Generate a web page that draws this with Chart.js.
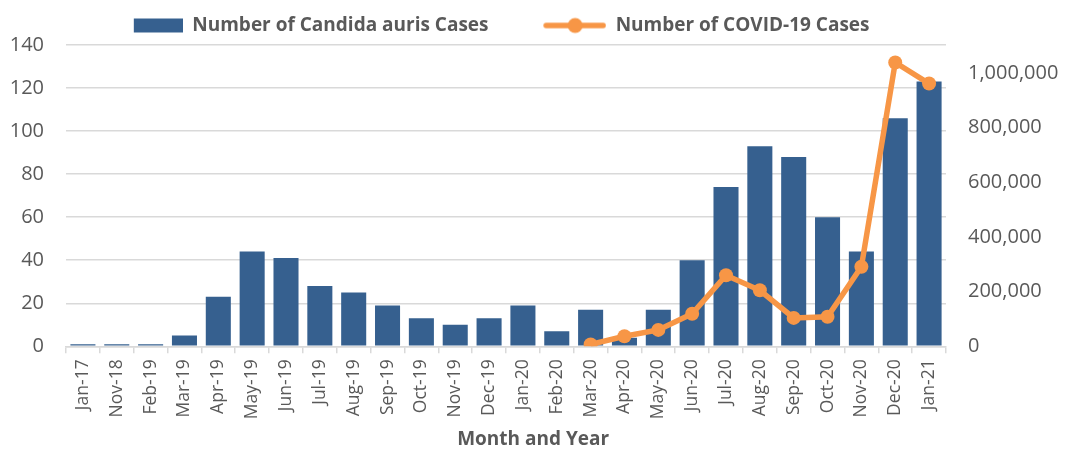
<!DOCTYPE html>
<html>
<head>
<meta charset="utf-8">
<script src="https://cdn.jsdelivr.net/npm/chart.js@4"></script>
<style>
  html, body { margin: 0; padding: 0; background: #fff; }
  #wrap { width: 1073px; height: 451px; }
</style>
</head>
<body>
<div id="wrap"><canvas id="chart" width="1073" height="451"></canvas></div>
<script>
// Data
const months = ['Jan-17', 'Nov-18', 'Feb-19', 'Mar-19', 'Apr-19', 'May-19', 'Jun-19', 'Jul-19',
    'Aug-19', 'Sep-19', 'Oct-19', 'Nov-19', 'Dec-19', 'Jan-20', 'Feb-20', 'Mar-20', 'Apr-20',
    'May-20', 'Jun-20', 'Jul-20', 'Aug-20', 'Sep-20', 'Oct-20', 'Nov-20', 'Dec-20', 'Jan-21'];
const aurisCases = [1, 1, 1, 5, 23, 44, 41, 28, 25, 19, 13, 10, 13, 19, 7, 17, 4, 17, 40, 74, 93, 88, 60, 44, 106, 123];
const covidCases = [null, null, null, null, null, null, null, null, null, null, null, null, null, null, null,
    7000, 37000, 60000, 119000, 260000, 205000, 104000, 108000, 291000, 1038000, 961000];
const leftTicks = [0, 20, 40, 60, 80, 100, 120, 140];
const rightTicks = [0, 200000, 400000, 600000, 800000, 1000000];

const BLUE = '#36608f';
const ORANGE = '#f79646';
const GREY = '#595959';

// legend swatches drawn onto small canvases (same width so text lines up)
function swatch(kind) {
    const c = document.createElement('canvas');
    c.width = 78; c.height = 18;
    const g = c.getContext('2d');
    if (kind === 'bar') {
        g.fillStyle = BLUE;
        g.fillRect(29, 2, 49, 14);
    } else {
        g.strokeStyle = ORANGE;
        g.lineWidth = 5.5;
        g.lineCap = 'round';
        g.beginPath(); g.moveTo(18, 9); g.lineTo(75, 9); g.stroke();
        g.fillStyle = ORANGE;
        g.beginPath(); g.arc(47, 9, 7.5, 0, Math.PI * 2); g.fill();
    }
    return c;
}
const swatches = [swatch('bar'), swatch('line')];
// trailing blanks widen the legend items so they sit where the reference has them
const legendPad = [' '.repeat(6), ' '.repeat(20)];

new Chart(document.getElementById('chart'), {
    data: {
        labels: months,
        datasets: [
            {
                type: 'line',
                label: 'Number of COVID-19 Cases',
                data: covidCases,
                yAxisID: 'y2',
                borderColor: ORANGE,
                backgroundColor: ORANGE,
                borderWidth: 5.5,
                pointRadius: 7,
                pointBackgroundColor: ORANGE,
                pointBorderWidth: 0,
                spanGaps: false,
                order: 0,
            },
            {
                type: 'bar',
                label: 'Number of Candida auris Cases',
                data: aurisCases,
                yAxisID: 'y',
                backgroundColor: BLUE,
                borderWidth: 0,
                barPercentage: 0.74,
                categoryPercentage: 1,
                order: 1,
            },
        ],
    },
    options: {
        responsive: false,
        animation: false,
        layout: { padding: { top: 6, left: 0, right: 0, bottom: 0 } },
        plugins: {
            tooltip: { enabled: false },
            legend: {
                display: true,
                position: 'top',
                labels: {
                    usePointStyle: true,
                    pointStyleWidth: 78,
                    boxHeight: 18,
                    padding: 10,
                    color: GREY,
                    font: { family: 'Open Sans', size: 19, weight: 'bold' },
                    generateLabels: (chart) => [1, 0].map((di, k) => ({
                        text: chart.data.datasets[di].label + legendPad[k],
                        pointStyle: swatches[k],
                        fontColor: GREY,
                        datasetIndex: di,
                        hidden: false,
                        lineWidth: 0,
                    })),
                },
            },
        },
        scales: {
            x: {
                offset: true,
                grid: {
                    offset: true,
                    drawOnChartArea: false,
                    drawTicks: true,
                    tickLength: 7,
                    color: '#d9d9d9',
                    lineWidth: 1.5,
                },
                border: { color: '#d9d9d9', width: 1.5 },
                ticks: {
                    color: GREY,
                    font: { family: 'Open Sans', size: 17.5 },
                    maxRotation: 90,
                    minRotation: 90,
                    autoSkip: false,
                    padding: 6,
                },
                title: {
                    display: true,
                    text: '           Month and Year',
                    color: GREY,
                    font: { family: 'Open Sans', size: 19, weight: 'bold' },
                    padding: { top: 3, bottom: 0 },
                },
            },
            y: {
                position: 'left',
                min: 0,
                max: 140,
                afterBuildTicks: (axis) => { axis.ticks = leftTicks.map(v => ({ value: v })); },
                afterFit: (axis) => { axis.width = 66; },
                grid: { color: '#d9d9d9', lineWidth: 1.5, drawTicks: false },
                border: { display: false },
                ticks: {
                    color: GREY,
                    font: { family: 'Open Sans', size: 20 },
                    padding: 22,
                },
            },
            y2: {
                position: 'right',
                min: 0,
                max: 1102000,
                afterBuildTicks: (axis) => { axis.ticks = rightTicks.map(v => ({ value: v })); },
                afterFit: (axis) => { axis.width = 127; },
                grid: { drawOnChartArea: false, drawTicks: false },
                border: { display: false },
                ticks: {
                    color: GREY,
                    font: { family: 'Open Sans', size: 20 },
                    padding: 22,
                    callback: (v) => v.toLocaleString('en-US'),
                },
            },
        },
    },
});
</script>
</body>
</html>
